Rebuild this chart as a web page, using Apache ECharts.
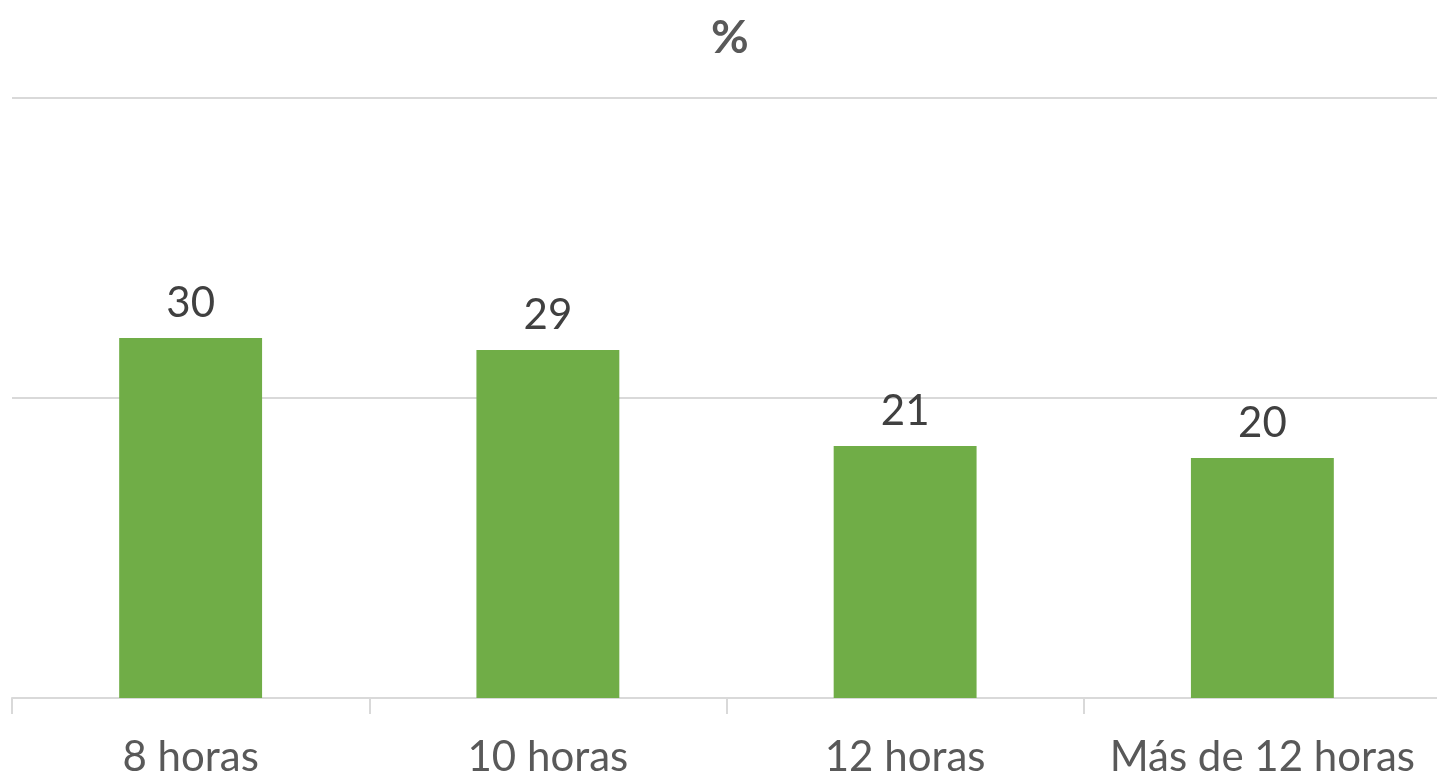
<!DOCTYPE html>
<html>
<head>
<meta charset="utf-8">
<title>%</title>
<script type="text/javascript" src="https://cdn.jsdelivr.net/npm/echarts@6/dist/echarts.min.js"></script>
<style>
  html, body { margin: 0; padding: 0; background: #fff; }
  #chart { width: 1437px; height: 781px; }
</style>
</head>
<body>
<div id="chart"></div>
<script type="text/javascript">
  // datos
  var categorias = ['8 horas', '10 horas', '12 horas', 'Más de 12 horas'];
  var valores = [30, 29, 21, 20];

  var myChart = echarts.init(document.getElementById('chart'));
  myChart.setOption({
    animation: false,
    textStyle: { fontFamily: 'Lato' },
    title: {
      text: '%',
      left: 706,
      top: 10,
      textStyle: { fontSize: 46, fontWeight: 'bold', color: '#595959', fontFamily: 'Lato' }
    },
    grid: { left: 12, width: 1429, top: 98, bottom: 83, containLabel: false, outerBoundsMode: 'none' },
    xAxis: {
      type: 'category',
      data: categorias,
      axisLine: { lineStyle: { color: '#d9d9d9', width: 2 } },
      axisTick: { show: true, length: 16, lineStyle: { color: '#d9d9d9', width: 2 } },
      axisLabel: { fontSize: 42, color: '#595959', margin: 38, interval: 0, hideOverlap: false }
    },
    yAxis: {
      type: 'value',
      min: 0,
      max: 50,
      interval: 25,
      axisLabel: { show: false },
      axisLine: { show: false },
      axisTick: { show: false },
      splitLine: { lineStyle: { color: '#d9d9d9', width: 2 } }
    },
    series: [{
      type: 'bar',
      data: valores,
      barWidth: '40%',
      itemStyle: { color: '#70ad47' },
      label: { show: true, position: 'top', distance: 14, fontSize: 42, color: '#404040' }
    }]
  });
</script>
</body>
</html>
